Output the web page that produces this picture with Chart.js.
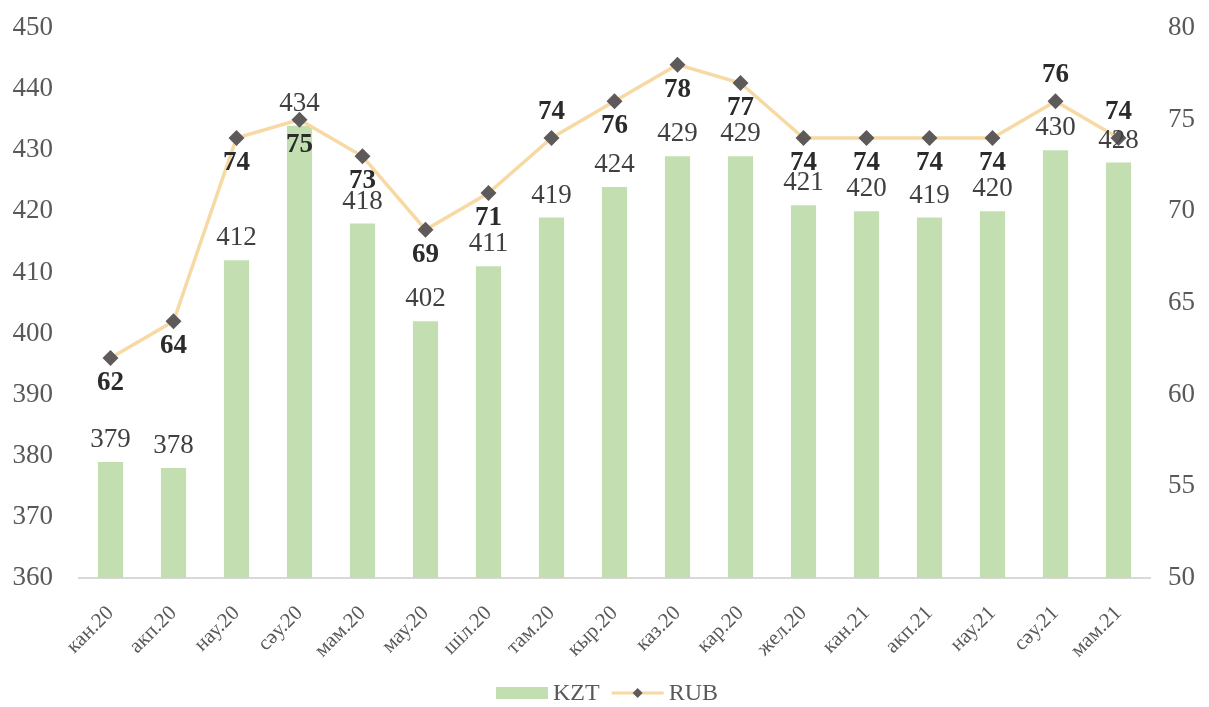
<!DOCTYPE html>
<html>
<head>
<meta charset="utf-8">
<script src="https://cdn.jsdelivr.net/npm/chart.js@4.4.1/dist/chart.umd.min.js"></script>
<style>
html,body{margin:0;padding:0;background:#fff;}
#wrap{width:1209px;height:707px;position:relative;}
</style>
</head>
<body>
<div id="wrap"><canvas id="c" width="1209" height="707"></canvas></div>
<script>
const categories = ['кан.20','акп.20','нау.20','сәу.20','мам.20','мау.20','шіл.20','там.20','кыр.20','каз.20','кар.20','жел.20','кан.21','акп.21','нау.21','сәу.21','мам.21'];
const kztValues = [379,378,412,434,418,402,411,419,424,429,429,421,420,419,420,430,428];
const rubValues = [62,64,74,75,73,69,71,74,76,78,77,74,74,74,74,76,74];
const rubLabelSide = ['below','below','below','below','below','below','below','above','below','below','below','below','below','below','below','above','above'];
const leftTicks = [360,370,380,390,400,410,420,430,440,450];
const rightTicks = [50,55,60,65,70,75,80];

const SERIF = '"Liberation Serif","DejaVu Serif",serif';
const GREEN = '#c3dfb1';
const LINE = '#f7d9a4';
const MARK = '#5e5a5a';

const labelPlugin = {
  id:'valueLabels',
  afterDatasetsDraw(chart){
    const ctx = chart.ctx;
    ctx.save();
    ctx.textAlign = 'center';
    ctx.textBaseline = 'middle';
    const barMeta = chart.getDatasetMeta(0);
    ctx.font = '27px ' + SERIF;
    ctx.fillStyle = '#404040';
    barMeta.data.forEach((el,i)=>{
      ctx.fillText(String(kztValues[i]), el.x, el.y - 22);
    });
    const lineMeta = chart.getDatasetMeta(1);
    ctx.font = 'bold 27px ' + SERIF;
    ctx.fillStyle = '#2b2b2b';
    lineMeta.data.forEach((el,i)=>{
      const dy = rubLabelSide[i]==='above' ? -26 : 25;
      ctx.fillText(String(rubValues[i]), el.x, el.y + dy);
    });
    ctx.restore();
  },
  afterDraw(chart){
    const ctx = chart.ctx;
    ctx.save();
    ctx.font = '24px ' + SERIF;
    ctx.textBaseline = 'middle';
    ctx.textAlign = 'left';
    const ds = chart.data.datasets;
    const iconW = 52, gapIT = 5, gapItems = 12;
    const w0 = ctx.measureText(ds[0].label).width;
    const w1 = ctx.measureText(ds[1].label).width;
    const total = iconW + gapIT + w0 + gapItems + iconW + gapIT + w1;
    let x = 607 - total/2;
    const y = 693;
    ctx.fillStyle = GREEN;
    ctx.fillRect(x, y-6, iconW, 12);
    x += iconW + gapIT;
    ctx.fillStyle = '#595959';
    ctx.fillText(ds[0].label, x, y+1);
    x += w0 + gapItems;
    ctx.strokeStyle = LINE; ctx.lineWidth = 3;
    ctx.beginPath(); ctx.moveTo(x, y); ctx.lineTo(x+iconW, y); ctx.stroke();
    const cx = x + iconW/2;
    ctx.fillStyle = MARK;
    ctx.beginPath(); ctx.moveTo(cx, y-5); ctx.lineTo(cx+5, y); ctx.lineTo(cx, y+5); ctx.lineTo(cx-5, y); ctx.closePath(); ctx.fill();
    x += iconW + gapIT;
    ctx.fillStyle = '#595959';
    ctx.fillText(ds[1].label, x, y+1);
    ctx.restore();
  }
};

function fitV(width){
  return function(s){ s.width = width; s.paddingTop = 0; s.paddingBottom = 0; };
}

new Chart(document.getElementById('c'), {
  data:{
    labels: categories,
    datasets:[
      {type:'bar', label:'KZT', data:kztValues, backgroundColor:GREEN, yAxisID:'y',
       barPercentage:0.4, categoryPercentage:1, order:2},
      {type:'line', label:'RUB', data:rubValues, borderColor:LINE, borderWidth:3.5, tension:0,
       pointStyle:'rectRot', pointRadius:5.5, pointBackgroundColor:MARK, pointBorderColor:MARK,
       yAxisID:'y1', order:1}
    ]
  },
  options:{
    responsive:false,
    animation:false,
    layout:{padding:{top:28,bottom:0,left:0,right:0}},
    plugins:{
      legend:{display:false},
      tooltip:{enabled:false}
    },
    scales:{
      x:{
        grid:{display:false, drawTicks:false},
        border:{display:true, color:'#d9d9d9', width:2},
        ticks:{font:{family:SERIF,size:21}, color:'#595959', minRotation:45, maxRotation:45, padding:23},
        afterFit(s){ s.height = 129; s.paddingLeft = 0; s.paddingRight = 0; }
      },
      y:{
        position:'left', min:360, max:450,
        afterBuildTicks(s){ s.ticks = leftTicks.map(v=>({value:v})); },
        grid:{display:false, drawTicks:false},
        border:{display:false},
        ticks:{font:{family:SERIF,size:27}, color:'#595959', padding:26},
        afterFit: fitV(79)
      },
      y1:{
        position:'right', min:50, max:80,
        afterBuildTicks(s){ s.ticks = rightTicks.map(v=>({value:v})); },
        grid:{display:false, drawTicks:false},
        border:{display:false},
        ticks:{font:{family:SERIF,size:27}, color:'#595959', padding:18},
        afterFit: fitV(59)
      }
    }
  },
  plugins:[labelPlugin]
});
</script>
</body>
</html>
